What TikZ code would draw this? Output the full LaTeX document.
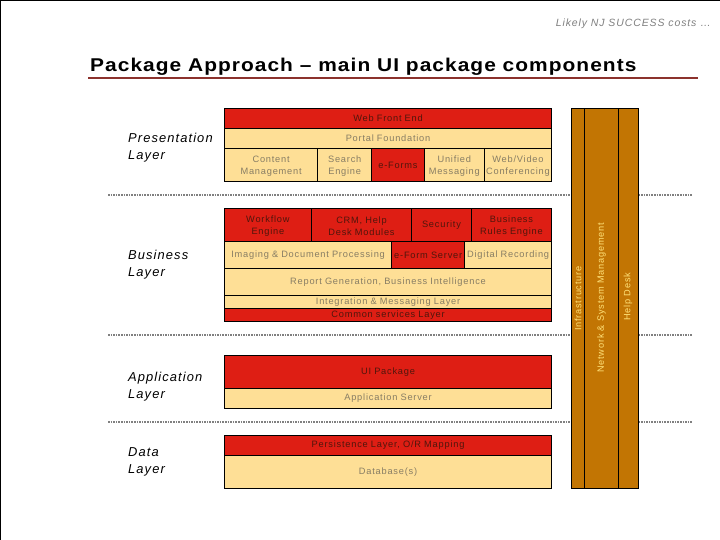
\documentclass[tikz,border=0pt]{standalone}
\usepackage{fontspec}
\setmainfont{Liberation Sans}
\newfontfamily\wideface[LetterSpace=8.5]{Liberation Sans}
\newfontfamily\titleface[LetterSpace=5]{Liberation Sans}
\definecolor{boxred}{RGB}{222,30,20}
\definecolor{boxcream}{RGB}{254,223,150}
\definecolor{sidebrown}{RGB}{194,117,3}
\definecolor{ruleline}{RGB}{140,50,45}
\definecolor{txtcream}{RGB}{135,125,100}
\definecolor{txtred}{RGB}{80,22,12}
\definecolor{txtside}{RGB}{255,225,120}
\tikzset{
 cell/.style={draw=black,line width=0.8pt,inner sep=0pt,align=center,font=\wideface\fontsize{9.25}{11.3}\selectfont,text width=100pt},
 redcell/.style={cell,fill=boxred,text=txtred},
 creamcell/.style={cell,fill=boxcream,text=txtcream},
 sidecell/.style={draw=black,line width=0.8pt,fill=sidebrown,inner sep=0pt},
 sidetext/.style={text=txtside,rotate=90,anchor=west,inner sep=0pt,font=\wideface\fontsize{9.2}{10}\selectfont},
 layerlabel/.style={anchor=west,align=left,inner sep=0pt,font=\wideface\itshape\fontsize{12.9}{17}\selectfont,text=black},
 sepline/.style={dash pattern=on 1.6pt off 1pt,line width=1.5pt,color=black!50}
}
% first line of a two-line cell: a taller strut sets the text 1pt lower
\newcommand{\tl}{\rule{0pt}{9pt}}
% \bx{style}{name}{x1}{y1}{x2}{y2}{text}
\newcommand{\bx}[7]{%
 \pgfmathsetmacro{\bxw}{#5-#3}\pgfmathsetmacro{\bxh}{#6-#4}%
 \node[#1,minimum width=\bxw pt,minimum height=\bxh pt,text width=\bxw pt] (#2) at ({(#3+#5)/2},{(#4+#6)/2}) {#7};}
\begin{document}
\begin{tikzpicture}[x=1pt,y=-1pt]
\useasboundingbox (0,0) rectangle (720,540);
\fill[white] (0,0) rectangle (720,540);
\coordinate (tl) at (0.5,0.5); \coordinate (tr) at (720,0.5); \coordinate (bl) at (0.5,540);
\draw[black,line width=1pt] (bl) -- (tl) -- (tr);

\node[anchor=east,inner sep=0pt,text=black!50,font=\wideface\itshape\fontsize{10.5}{11}\selectfont] (head) at (711,24) {Likely NJ SUCCESS costs \dots};
\node[anchor=west,inner sep=0pt,font=\titleface\bfseries\fontsize{18.5}{20}\selectfont] (title) at (90,66.5) {\scalebox{1.13}[1]{Package Approach – main UI package components}};
\coordinate (ruleL) at (88,78); \coordinate (ruleR) at (698,78);
\draw[ruleline,line width=1.6pt] (ruleL) -- (ruleR);

\foreach \n/\yy in {a/195,b/335,c/422}{
 \coordinate (sep\n L) at (108,\yy); \coordinate (sep\n R) at (693,\yy);
 \draw[sepline] (sep\n L) -- (sep\n R);
}

\node[layerlabel] (lp) at (128,147.5) {Presentation\\Layer};
\node[layerlabel] (lb) at (128,264.5) {Business\\Layer};
\node[layerlabel] (la) at (128,386.5) {Application\\Layer};
\node[layerlabel] (ld) at (128,461.5) {Data\\Layer};

\bx{redcell}{web}{224.5}{108.3}{551.6}{128.5}{Web Front End}
\bx{creamcell}{portal}{224.5}{128.5}{551.6}{148.5}{Portal Foundation}
\bx{creamcell}{content}{224.5}{148.5}{317.7}{181.3}{\tl Content\\Management}
\bx{creamcell}{search}{317.7}{148.5}{371.7}{181.3}{\tl Search\\Engine}
\bx{redcell}{eforms}{371.7}{148.5}{424.3}{181.3}{e-Forms}
\bx{creamcell}{unified}{424.3}{148.5}{484.3}{181.3}{\tl Unified\\Messaging}
\bx{creamcell}{video}{484.3}{148.5}{551.6}{181.3}{\tl Web/Video\\Conferencing}

\bx{redcell}{workflow}{224.5}{208.5}{311.3}{241.5}{\tl Workflow\\Engine}
\bx{redcell}{crm}{311.3}{208.5}{411.7}{241.5}{\tl CRM, Help\\Desk Modules}
\bx{redcell}{security}{411.7}{208.5}{471.3}{241.5}{Security}
\bx{redcell}{rules}{471.3}{208.5}{551.6}{241.5}{\tl Business\\Rules Engine}
\bx{creamcell}{imaging}{224.5}{241.5}{391.7}{268.5}{Imaging \& Document Processing}
\bx{redcell}{eserver}{391.7}{241.5}{464.7}{268.5}{e-Form Server}
\bx{creamcell}{digital}{464.7}{241.5}{551.6}{268.5}{Digital Recording}
\bx{creamcell}{report}{224.5}{268.5}{551.6}{295.5}{Report Generation, Business Intelligence}
\bx{creamcell}{integ}{224.5}{295.5}{551.6}{308.5}{Integration \& Messaging Layer}
\bx{redcell}{common}{224.5}{308.5}{551.6}{321.3}{Common services Layer}

\bx{redcell}{ui}{224.5}{355.3}{551.6}{388.3}{UI Package}
\bx{creamcell}{appsrv}{224.5}{388.3}{551.6}{408.3}{Application Server}
\bx{redcell}{persist}{224.5}{435.3}{551.6}{455.5}{Persistence Layer, O/R Mapping}
\bx{creamcell}{db}{224.5}{455.5}{551.6}{488.3}{Database(s)}

\bx{sidecell}{infra}{571.7}{108.3}{584.3}{488.3}{}
\bx{sidecell}{netw}{584.3}{108.3}{618.3}{488.3}{}
\bx{sidecell}{help}{618.3}{108.3}{638.7}{488.3}{}
\node[sidetext] (infraT) at (578,331) {Infrastructure};
\node[sidetext] (netwT) at (601.5,373) {Network \& System Management};
\node[sidetext] (helpT) at (628,321) {Help Desk};
\end{tikzpicture}
\end{document}
